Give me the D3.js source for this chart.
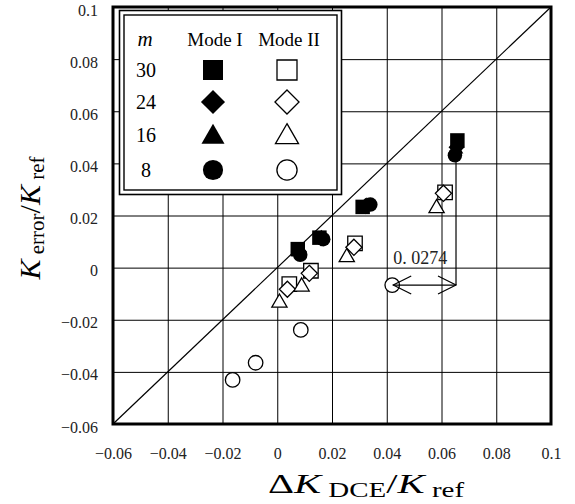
<!DOCTYPE html>
<html>
<head>
<meta charset="utf-8">
<script src="https://cdn.jsdelivr.net/npm/d3@7"></script>
<style>
  html, body { margin: 0; padding: 0; background: #fff; }
  text { font-family: "Liberation Serif", "DejaVu Serif", serif; fill: #000; }
</style>
</head>
<body>
<div id="chart"></div>
<script>
// ── Data ──
const xTicks = [-0.06, -0.04, -0.02, 0, 0.02, 0.04, 0.06, 0.08, 0.1];
const xTickLabels = ['\u22120.06', '\u22120.04', '\u22120.02', '0', '0.02', '0.04', '0.06', '0.08', '0.1'];
const yTicks = [-0.06, -0.04, -0.02, 0, 0.02, 0.04, 0.06, 0.08, 0.1];
const yTickLabels = ['\u22120.06', '\u22120.04', '\u22120.02', '0', '0.02', '0.04', '0.06', '0.08', '0.1'];

const mValues = ['30', '24', '16', '8'];
const modes = ['Mode I', 'Mode II'];

// Mode I (filled)
const mode1_m30 = [[0.0075, 0.0071], [0.0154, 0.0115], [0.0312, 0.0233], [0.0658, 0.0488]];
const mode1_m24 = [[0.0079, 0.0062], [0.0160, 0.0112], [0.0322, 0.0236], [0.0655, 0.0462]];
const mode1_m16 = [[0.0080, 0.0060], [0.0162, 0.0112], [0.0325, 0.0236], [0.0652, 0.0455]];
const mode1_m8  = [[0.0084, 0.0049], [0.0168, 0.0109], [0.0340, 0.0242], [0.0649, 0.0431]];
// Mode II (open)
const mode2_m30 = [[0.0044, -0.0063], [0.0123, -0.0012], [0.0284, 0.0093], [0.0613, 0.0289]];
const mode2_m24 = [[0.0037, -0.0083], [0.0117, -0.0022], [0.0280, 0.0078], [0.0607, 0.0285]];
const mode2_m16 = [[0.0008, -0.0135], [0.0089, -0.0073], [0.0254, 0.0040], [0.0582, 0.0228]];
const mode2_m8  = [[-0.0163, -0.0431], [-0.0079, -0.0365], [0.0086, -0.0239], [0.0420, -0.0067]];

// annotation: gap between m=8 points
const gapLabel = '0. 0274';
const gapFrom = [0.0420, -0.0067];
const gapTo = [0.0653, -0.0067];
const gapTop = [0.0653, 0.0431];

// ── Layout ──
const W = 575, H = 504;
const margin = { top: 7, right: 24, bottom: 80, left: 113 };
const width = W - margin.left - margin.right;
const height = H - margin.top - margin.bottom;

const svg = d3.select('#chart').append('svg')
  .attr('width', W).attr('height', H);
const g = svg.append('g')
  .attr('transform', `translate(${margin.left},${margin.top})`);

const x = d3.scaleLinear().domain([-0.06, 0.1]).range([0, width]);
const y = d3.scaleLinear().domain([-0.06, 0.1]).range([height, 0]);

// Grid lines
g.append('g')
  .call(d3.axisBottom(x).tickValues(xTicks).tickSize(height).tickFormat(''))
  .call(s => s.select('.domain').remove())
  .selectAll('line').attr('stroke', '#000').attr('stroke-width', 1);
g.append('g')
  .call(d3.axisLeft(y).tickValues(yTicks).tickSize(-width).tickFormat(''))
  .call(s => s.select('.domain').remove())
  .selectAll('line').attr('stroke', '#000').attr('stroke-width', 1);

// Tick labels
g.append('g').attr('transform', `translate(0,${height})`)
  .call(d3.axisBottom(x).tickValues(xTicks).tickSize(0).tickPadding(24)
    .tickFormat((d, i) => xTickLabels[i]))
  .call(s => s.select('.domain').remove())
  .selectAll('text')
  .attr('font-size', 16).style('fill', '#222');

g.append('g')
  .call(d3.axisLeft(y).tickValues(yTicks).tickSize(0).tickPadding(15)
    .tickFormat((d, i) => yTickLabels[i]))
  .call(s => s.select('.domain').remove())
  .selectAll('text')
  .attr('font-size', 16).attr('dy', '0.5em').style('fill', '#222');

// Diagonal 1:1 line
g.append('line')
  .attr('x1', x(-0.06)).attr('y1', y(-0.06))
  .attr('x2', x(0.1)).attr('y2', y(0.1))
  .attr('stroke', '#000').attr('stroke-width', 1.2);

// Frame
g.append('rect')
  .attr('width', width).attr('height', height)
  .attr('fill', 'none').attr('stroke', '#000').attr('stroke-width', 3);

// Symbols
const diamond = {
  draw(ctx, size) {
    const r = Math.sqrt(size / 2);
    ctx.moveTo(0, -r); ctx.lineTo(r, 0); ctx.lineTo(0, r); ctx.lineTo(-r, 0); ctx.closePath();
  }
};
const shapes = [d3.symbolSquare, diamond, d3.symbolTriangle, d3.symbolCircle];
const plotSizes = [210, 130, 100, 165];
const legendSizes = [400, 290, 230, 320];

function drawPoints(data, shapeIdx, filled) {
  g.append('g').selectAll('path')
    .data(data).enter()
    .append('path')
    .attr('transform', d => `translate(${x(d[0])},${y(d[1])})`)
    .attr('d', d3.symbol(shapes[shapeIdx], plotSizes[shapeIdx]))
    .attr('fill', filled ? '#000' : '#fff')
    .attr('stroke', '#000')
    .attr('stroke-width', filled ? 0 : 1.3);
}

// Mode II (open)
drawPoints(mode2_m30, 0, false);
drawPoints(mode2_m24, 1, false);
drawPoints(mode2_m16, 2, false);
drawPoints(mode2_m8, 3, false);
// Mode I (filled)
drawPoints(mode1_m16, 2, true);
drawPoints(mode1_m24, 1, true);
drawPoints(mode1_m30, 0, true);
drawPoints(mode1_m8, 3, true);

// Annotation
g.append('line')
  .attr('x1', x(gapTop[0])).attr('y1', y(gapTop[1]))
  .attr('x2', x(gapTo[0])).attr('y2', y(gapTo[1]))
  .attr('stroke', '#000').attr('stroke-width', 1.2);
g.append('line')
  .attr('x1', x(gapFrom[0]) + 1).attr('y1', y(gapFrom[1]))
  .attr('x2', x(gapTo[0])).attr('y2', y(gapTo[1]))
  .attr('stroke', '#000').attr('stroke-width', 1.2);
const ax0 = x(gapFrom[0]) + 1, ax1 = x(gapTo[0]), ay = y(gapFrom[1]);
g.append('path')
  .attr('d', `M${ax0 + 18},${ay - 9} L${ax0},${ay} L${ax0 + 18},${ay + 9}
              M${ax1 - 18},${ay - 9} L${ax1},${ay} L${ax1 - 18},${ay + 9}`)
  .attr('fill', 'none').attr('stroke', '#000').attr('stroke-width', 1.2);
g.append('text')
  .attr('x', x(gapFrom[0]) + 1).attr('y', y(gapFrom[1]) - 21)
  .attr('font-size', 18).style('fill', '#222')
  .text(gapLabel);

// Legend
const legend = svg.append('g');
legend.append('rect')
  .attr('x', 119.5).attr('y', 10.5).attr('width', 222).attr('height', 184)
  .attr('fill', '#fff').attr('stroke', '#000').attr('stroke-width', 1.6);
legend.append('rect')
  .attr('x', 124).attr('y', 15).attr('width', 213).attr('height', 175)
  .attr('fill', 'none').attr('stroke', '#000').attr('stroke-width', 1.4);

legend.append('text')
  .attr('x', 145).attr('y', 46).attr('text-anchor', 'middle')
  .attr('font-size', 21).attr('font-style', 'italic')
  .text('m');
const colX = [213, 287];
modes.forEach((mname, i) => {
  legend.append('text')
    .attr('x', colX[i] + 2).attr('y', 46).attr('text-anchor', 'middle')
    .attr('font-size', 19)
    .text(mname);
});
const rowY = [70, 102, 135, 170];
mValues.forEach((mv, r) => {
  legend.append('text')
    .attr('x', 146).attr('y', rowY[r] + 7).attr('text-anchor', 'middle')
    .attr('font-size', 20)
    .text(mv);
  [true, false].forEach((filled, c) => {
    legend.append('path')
      .attr('transform', `translate(${colX[c]},${rowY[r] + (r === 2 ? 2 : 0)})`)
      .attr('d', d3.symbol(shapes[r], legendSizes[r]))
      .attr('fill', filled ? '#000' : '#fff')
      .attr('stroke', '#000')
      .attr('stroke-width', filled ? 0 : 1.3);
  });
});

// Axis titles
const xTitle = svg.append('text')
  .attr('transform', 'translate(366,493) scale(1.45,1)')
  .attr('text-anchor', 'middle')
  .attr('font-size', 28);
xTitle.append('tspan').text('\u0394');
xTitle.append('tspan').attr('font-style', 'italic').text('K');
xTitle.append('tspan').attr('font-size', 20).attr('dy', 4).text(' DCE');
xTitle.append('tspan').attr('dy', -4).text('/');
xTitle.append('tspan').attr('font-style', 'italic').text('K');
xTitle.append('tspan').attr('font-size', 20).attr('dy', 4).text(' ref');

const yTitle = svg.append('text')
  .attr('transform', 'translate(40,218) rotate(-90)')
  .attr('text-anchor', 'middle')
  .attr('font-size', 30);
yTitle.append('tspan').attr('font-style', 'italic').text('K');
yTitle.append('tspan').attr('font-size', 21).attr('dy', 4).text(' error');
yTitle.append('tspan').attr('dy', -4).text('/');
yTitle.append('tspan').attr('font-style', 'italic').text('K');
yTitle.append('tspan').attr('font-size', 21).attr('dy', 4).text(' ref');
</script>
</body>
</html>
